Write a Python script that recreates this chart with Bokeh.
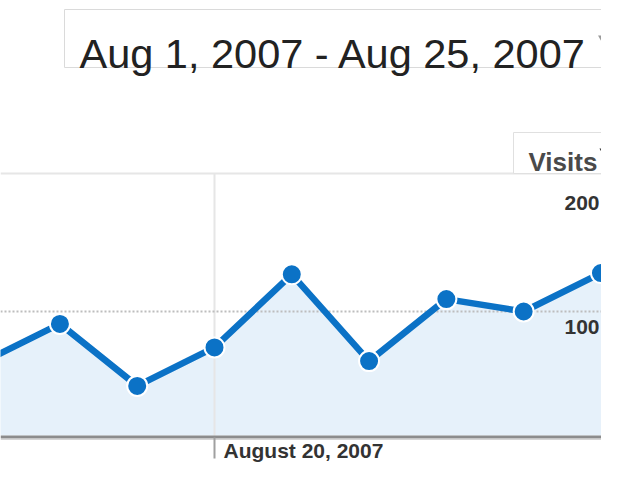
import pandas as pd
from bokeh.plotting import figure
from bokeh.models import Range1d, Label
from bokeh.embed import file_html
from bokeh.resources import INLINE

# ---- data ----
dates = ["2007-08-17", "2007-08-18", "2007-08-19", "2007-08-20", "2007-08-21",
         "2007-08-22", "2007-08-23", "2007-08-24", "2007-08-25"]
visits = [59, 90, 40, 71, 130, 60, 110, 100, 131]
x_tick_dates = ["2007-08-20"]
y_ticks = [100, 200]
y_tick_labels = ["100", "200"]
range_start = "Aug 1, 2007"
range_end = "Aug 25, 2007"
metric = "Visits"

# ---- layout helpers (screen px -> data) ----
W, H = 601, 464
REF_MS = pd.Timestamp(x_tick_dates[0]).value / 1e6
DAY_MS = 86400000.0
REF_PX = 214.0
DAY_PX = 77.29
BASE_PX = 435.0
PX_PER_UNIT = 1.24


def sx(fx):
    return REF_MS + (fx - REF_PX) / DAY_PX * DAY_MS


def sy(fy):
    return (BASE_PX - fy) / PX_PER_UNIT


xs = pd.to_datetime(dates)

p = figure(width=W, height=H, output_backend="svg", toolbar_location=None,
           x_range=Range1d(sx(0), sx(W)), y_range=Range1d(sy(H), sy(0)),
           x_axis_location=None, y_axis_location=None, min_border=0,
           x_axis_type="datetime")
p.outline_line_color = None
p.grid.visible = False
p.background_fill_color = "white"

# area
p.varea(x=xs, y1=0, y2=visits, fill_color="#e6f1fa")

# top border line
p.segment(x0=[sx(0)], x1=[sx(W + 20)], y0=[sy(173)], y1=[sy(173)],
          line_color="#e6e6e6", line_width=2)

# vertical gridline at tick date
tick_ms = [pd.Timestamp(d).value / 1e6 for d in x_tick_dates]
p.segment(x0=tick_ms, x1=tick_ms, y0=[sy(173)] * len(tick_ms), y1=[0] * len(tick_ms),
          line_color="#e6e6e6", line_width=2)

# dotted horizontal gridline (100)
p.segment(x0=[sx(0)], x1=[sx(W + 20)], y0=[y_ticks[0]], y1=[y_ticks[0]],
          line_color="#bdbdbd", line_width=2, line_dash="2 2")

# baseline axis
p.segment(x0=[sx(0)], x1=[sx(W + 20)], y0=[sy(436.5)], y1=[sy(436.5)],
          line_color="#8c8c8c", line_width=3)
p.segment(x0=[sx(0)], x1=[sx(W + 20)], y0=[sy(439)], y1=[sy(439)],
          line_color="#d5d5d5", line_width=1)

# tick mark
p.segment(x0=tick_ms, x1=tick_ms, y0=[sy(437)] * len(tick_ms), y1=[sy(458)] * len(tick_ms),
          line_color="#a0a0a0", line_width=2)

# series line and markers
p.line(x=xs, y=visits, line_color="#0b72c6", line_width=6.5)
p.scatter(x=xs, y=visits, size=20, fill_color="#0b72c6", line_color="white", line_width=2)

# tick label
for d, ms in zip(x_tick_dates, tick_ms):
    lab = pd.Timestamp(d).strftime("%B %-d, %Y")
    p.add_layout(Label(x=ms, y=sy(450), text=lab, x_offset=9,
                       text_font="Liberation Sans", text_font_style="bold",
                       text_font_size="21px", text_color="#333333",
                       text_baseline="alphabetic", text_align="left"))

# y tick labels (at the right edge)
for v, t in zip(y_ticks, y_tick_labels):
    p.add_layout(Label(x=sx(599), y=v, y_offset=-8, text=t,
                       text_font="Liberation Sans", text_font_style="bold",
                       text_font_size="21px", text_color="#333333",
                       text_baseline="top", text_align="right"))

# date range box
p.quad(left=[sx(64)], right=[sx(W + 40)], top=[sy(9)], bottom=[sy(67)],
       fill_color="white", line_color="#dadada", line_width=1)
p.add_layout(Label(x=sx(79), y=sy(53), text=f"{range_start} - {range_end}",
                   text_font="Liberation Sans", text_font_size="41.5px",
                   text_color="#222222", text_baseline="alphabetic"))
p.scatter(x=[sx(606)], y=[sy(40)], marker="inverted_triangle", size=17,
          fill_color="#9a9a9a", line_color=None)

# metric box
p.quad(left=[sx(513)], right=[sx(W + 40)], top=[sy(132)], bottom=[sy(173)],
       fill_color="white", line_color="#e0e0e0", line_width=1)
p.add_layout(Label(x=sx(528), y=sy(161), text=metric,
                   text_font="Liberation Sans", text_font_style="bold",
                   text_font_size="26px", text_color="#4a4a4a",
                   text_baseline="alphabetic"))
p.scatter(x=[sx(604)], y=[sy(151)], marker="inverted_triangle", size=10,
          fill_color="#333333", line_color=None)

open("out.html", "w").write(file_html(p, INLINE))
